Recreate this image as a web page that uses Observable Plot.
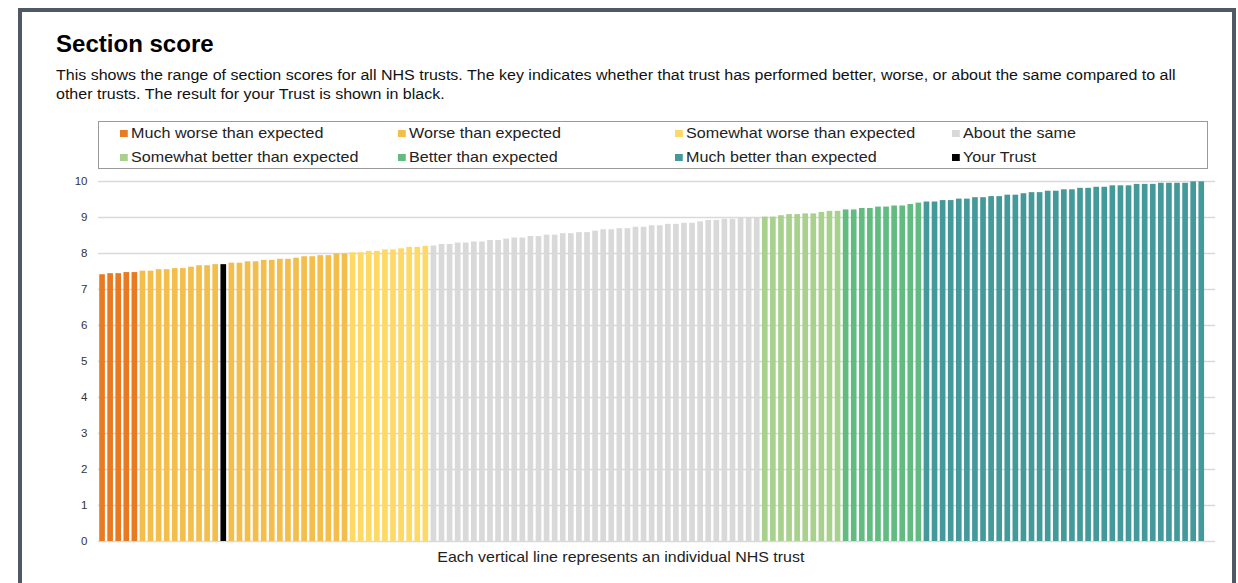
<!DOCTYPE html>
<html><head><meta charset="utf-8">
<script src="https://cdn.jsdelivr.net/npm/d3@7"></script>
<script src="https://cdn.jsdelivr.net/npm/@observablehq/plot@0.6"></script>
<style>
html,body{margin:0;padding:0;overflow:hidden;background:#fff;width:1238px;height:583px;}
body{font-family:"Liberation Sans",Arial,sans-serif;color:#000;position:relative;}
#frame{position:absolute;left:18px;top:8px;width:1210px;height:700px;border:4px solid #4f5965;box-sizing:content-box;}
#title{position:absolute;left:56px;top:31px;font-size:23px;font-weight:bold;transform:scaleX(1.045);transform-origin:0 0;}
#sub{position:absolute;left:56px;top:66px;font-size:14px;line-height:19px;color:#111;white-space:nowrap;transform:scaleX(1.144);transform-origin:0 0;}
#legend{position:absolute;left:98px;top:121px;width:1108px;height:46px;border:1px solid #9a9a9a;}
.li{position:absolute;font-size:14.5px;color:#222;white-space:nowrap;line-height:16px;transform:scaleX(1.11);transform-origin:0 0;}
.sw{display:inline-block;width:7px;height:7px;margin-right:3px;vertical-align:1px;}
#chart{position:absolute;left:0;top:170px;}
#cap{position:absolute;left:0;width:1242px;text-align:center;top:549px;font-size:14.5px;color:#222;}
#cap span{display:inline-block;transform:scaleX(1.10);}
</style></head>
<body>
<div id="frame"></div>
<div id="title">Section score</div>
<div id="sub">This shows the range of section scores for all NHS trusts. The key indicates whether that trust has performed better, worse, or about the same compared to all<br>other trusts. The result for your Trust is shown in black.</div>
<div id="legend"></div>
<div id="chart"></div>
<div id="cap"><span>Each vertical line represents an individual NHS trust</span></div>
<script>
const categories = ["Much worse than expected","Worse than expected","Somewhat worse than expected","About the same","Somewhat better than expected","Better than expected","Much better than expected","Your Trust"];
const colors = ["#e87b22","#f3be4b","#fed966","#d9d9d9","#a9d18e","#62bc82","#449a9a","#000000"];
const yTicks = [0,1,2,3,4,5,6,7,8,9,10];

const muchWorse = [7.41,7.44,7.44,7.47,7.47];
const worse = [7.51,7.51,7.55,7.55,7.58,7.58,7.62,7.66,7.66,7.69,7.69,7.73,7.73,7.77,7.77,7.81,7.81,7.84,7.84,7.87,7.91,7.91,7.94,7.94,7.99,7.99];
const yourTrustIndex = 15;
const somewhatWorse = [8.02,8.02,8.06,8.06,8.10,8.10,8.13,8.17,8.17,8.20];
const aboutSame = [8.21,8.25,8.25,8.29,8.29,8.32,8.32,8.36,8.36,8.40,8.43,8.43,8.47,8.47,8.51,8.51,8.55,8.55,8.58,8.58,8.62,8.66,8.66,8.69,8.69,8.73,8.73,8.77,8.77,8.81,8.81,8.84,8.84,8.88,8.92,8.92,8.95,8.95,8.99,8.99,9.00];
const somewhatBetter = [9.01,9.01,9.05,9.08,9.08,9.10,9.10,9.14,9.17,9.17];
const better = [9.21,9.21,9.25,9.25,9.29,9.29,9.32,9.32,9.36,9.40];
const muchBetter = [9.43,9.43,9.47,9.47,9.51,9.51,9.55,9.55,9.58,9.58,9.62,9.62,9.66,9.69,9.69,9.73,9.73,9.77,9.77,9.81,9.81,9.84,9.84,9.88,9.88,9.88,9.92,9.92,9.92,9.95,9.95,9.95,9.95,9.99,9.99];

const groups = [muchWorse, worse, somewhatWorse, aboutSame, somewhatBetter, better, muchBetter];
const data = [];
groups.forEach((g, gi) => g.forEach(v => {
  const rank = data.length;
  data.push({rank, score: v, cat: rank === yourTrustIndex ? categories[7] : categories[gi]});
}));

// Legend
const legend = document.getElementById("legend");
const colX = [21, 299, 576, 853];
const rowY = [3, 27];
categories.forEach((c, i) => {
  const d = document.createElement("div");
  d.className = "li";
  d.style.left = colX[i % 4] + "px";
  d.style.top = rowY[Math.floor(i / 4)] + "px";
  d.innerHTML = `<span class="sw" style="background:${colors[i]}"></span>${c}`;
  legend.appendChild(d);
});

const chart = Plot.plot({
  width: 1238,
  height: 400,
  marginTop: 11,
  marginBottom: 29,
  marginLeft: 98,
  marginRight: 23,
  style: {fontFamily: "'Liberation Sans', Arial, sans-serif", background: "transparent"},
  x: {type: "band", domain: data.map(d => d.rank), paddingInner: 0.3, paddingOuter: 0.75, align: 0.1, round: false, axis: null},
  y: {domain: [0, 10], axis: null},
  color: {domain: categories, range: colors},
  marks: [
    Plot.gridY(yTicks, {stroke: "#d9d9d9", strokeOpacity: 1, strokeWidth: 1.3}),
    Plot.barY(data, {x: "rank", y: "score", fill: "cat"}),
    Plot.axisY(yTicks, {tickSize: 0, tickPadding: 11, fontSize: 11.5, fill: "#333", label: null, tickFormat: d => String(d)})
  ]
});
document.getElementById("chart").appendChild(chart);
</script>
</body></html>
